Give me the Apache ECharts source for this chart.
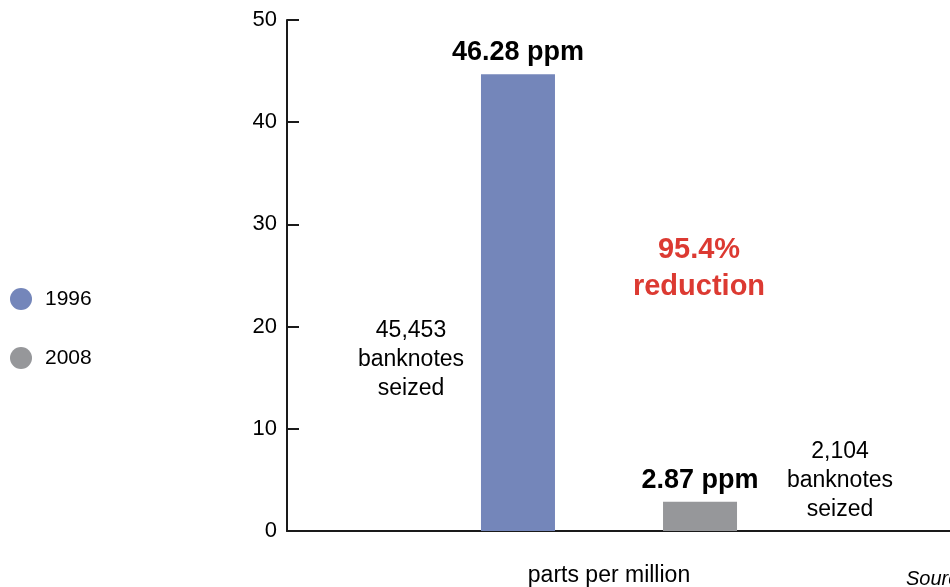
<!DOCTYPE html>
<html>
<head>
<meta charset="utf-8">
<script src="https://cdn.jsdelivr.net/npm/echarts@6/dist/echarts.min.js"></script>
<style>
html,body{margin:0;padding:0;background:#fff;}
#chart{width:950px;height:587px;}
</style>
</head>
<body>
<div id="chart"></div>
<script>
const categories = ['parts per million'];
const seriesNames = ['1996', '2008'];
const values1996 = [44.7];
const values2008 = [2.85];
const valueLabels = ['46.28 ppm', '2.87 ppm'];
const seizedNotes = ['45,453\nbanknotes\nseized', '2,104\nbanknotes\nseized'];
const reductionText = '95.4%\nreduction';
const sourceText = 'Source: Bank of Canada';
const colors = ['#7486BA', '#96979A'];

const FONT = '"Liberation Sans", Arial, Helvetica, sans-serif';
const chart = echarts.init(document.getElementById('chart'));

function barLabel(i) {
  return {
    show: true,
    position: 'top',
    distance: 8,
    formatter: valueLabels[i],
    fontFamily: FONT,
    fontSize: 27,
    fontWeight: 'bold',
    color: '#000'
  };
}

chart.setOption({
  animation: false,
  textStyle: { fontFamily: FONT },
  color: colors,
  grid: [
    { left: 287, right: 19, top: 20, bottom: 56 },
    { left: 287, right: 0, top: 20, bottom: 56 }
  ],
  legend: {
    orient: 'vertical',
    left: 5,
    top: 283,
    itemWidth: 22,
    itemHeight: 22,
    itemGap: 37,
    icon: 'circle',
    textStyle: { fontFamily: FONT, fontSize: 21, color: '#000', padding: [0, 0, 0, 8] },
    data: seriesNames
  },
  xAxis: [
    {
      type: 'category',
      gridIndex: 0,
      data: categories,
      axisLine: { show: false },
      axisTick: { show: false },
      axisLabel: { fontFamily: FONT, fontSize: 23, color: '#000', margin: 33 }
    },
    {
      type: 'category',
      gridIndex: 1,
      data: categories,
      axisLine: { show: true, lineStyle: { color: '#1a1a1a', width: 2 } },
      axisTick: { show: false },
      axisLabel: { show: false }
    }
  ],
  yAxis: [
    {
      type: 'value',
      gridIndex: 0,
      min: 0,
      max: 50,
      interval: 10,
      axisLine: { show: true, lineStyle: { color: '#1a1a1a', width: 2 } },
      axisTick: { show: true, inside: true, length: 12, lineStyle: { color: '#1a1a1a', width: 2 } },
      axisLabel: { fontFamily: FONT, fontSize: 22, color: '#000', margin: 10, padding: [4, 0, 0, 0] },
      splitLine: { show: false }
    },
    {
      type: 'value',
      gridIndex: 1,
      min: 0,
      max: 50,
      interval: 10,
      show: false
    }
  ],
  series: [
    {
      name: seriesNames[0],
      type: 'bar',
      data: values1996,
      barWidth: 74,
      barGap: '146%',
      itemStyle: { color: colors[0] },
      label: barLabel(0)
    },
    {
      name: seriesNames[1],
      type: 'bar',
      data: values2008,
      barWidth: 74,
      barGap: '146%',
      itemStyle: { color: colors[1] },
      label: barLabel(1)
    }
  ],
  graphic: [
    {
      type: 'text', x: 411, y: 360,
      style: { text: seizedNotes[0], textAlign: 'center', textVerticalAlign: 'middle',
        font: '23px ' + FONT, lineHeight: 29, fill: '#000' }
    },
    {
      type: 'text', x: 840, y: 481,
      style: { text: seizedNotes[1], textAlign: 'center', textVerticalAlign: 'middle',
        font: '23px ' + FONT, lineHeight: 29, fill: '#000' }
    },
    {
      type: 'text', x: 699, y: 268,
      style: { text: reductionText, textAlign: 'center', textVerticalAlign: 'middle',
        font: 'bold 29px ' + FONT, lineHeight: 37, fill: '#DC3A32' }
    },
    {
      type: 'text', x: 906, y: 579,
      style: { text: sourceText, textAlign: 'left', textVerticalAlign: 'middle',
        font: 'italic 20px ' + FONT, fill: '#000' }
    }
  ]
});
</script>
</body>
</html>
